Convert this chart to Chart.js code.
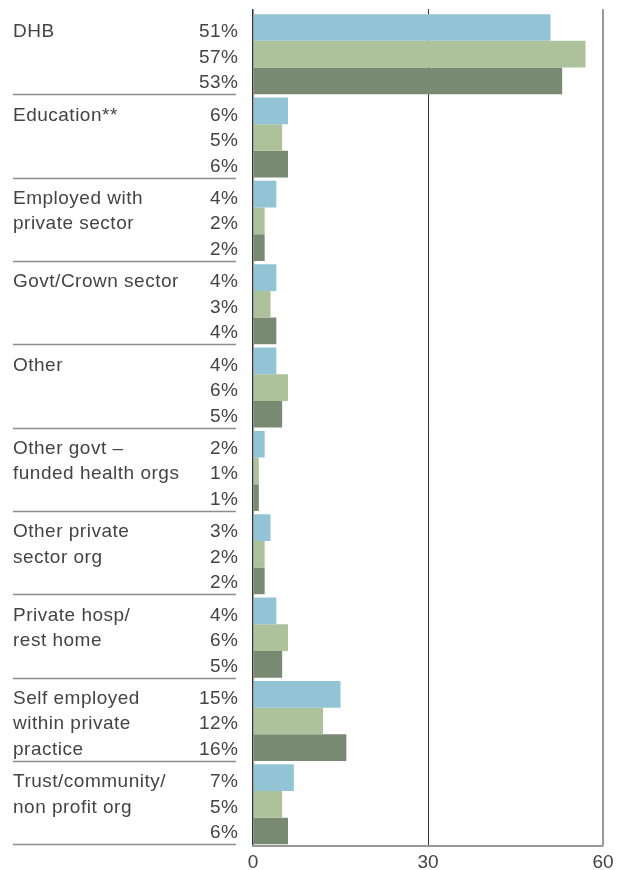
<!DOCTYPE html>
<html>
<head>
<meta charset="utf-8">
<script src="https://cdn.jsdelivr.net/npm/chart.js@4"></script>
<style>
	html, body { margin: 0; padding: 0; background: #fff; overflow: hidden; height: 870px; }
	canvas { display: block; }
</style>
</head>
<body>
<canvas id="mycanvas" width="619" height="870"></canvas>
<script>
var categories = [
	["DHB"],
	["Education**"],
	["Employed with", "private sector"],
	["Govt/Crown sector"],
	["Other"],
	["Other govt \u2013", "funded health orgs"],
	["Other private", "sector org"],
	["Private hosp/", "rest home"],
	["Self employed", "within private", "practice"],
	["Trust/community/", "non profit org"]
];
var seriesA = [51, 6, 4, 4, 4, 2, 3, 4, 15, 7];
var seriesB = [57, 5, 2, 3, 6, 1, 2, 6, 12, 5];
var seriesC = [53, 6, 2, 4, 5, 1, 2, 5, 16, 6];
var xTicks = [0, 30, 60];

var fontFamily = '"Liberation Sans", Arial, sans-serif';
var textColor = '#444';

function lineColor(v) { return v === 60 ? '#999' : '#333'; }
function lineWidth(v) { return v === 60 ? 2 : (v === 0 ? 1.5 : 1); }

// category names and percentages on the left, three text rows per group
var sideLabels = {
	id: 'sideLabels',
	afterDraw: function(chart) {
		var ctx = chart.ctx;
		var metas = [chart.getDatasetMeta(0), chart.getDatasetMeta(1), chart.getDatasetMeta(2)];
		var values = [seriesA, seriesB, seriesC];
		var area = chart.chartArea;
		var xs = chart.scales.x;
		ctx.save();

		// axis lines run a little above the plot
		xTicks.forEach(function(v) {
			var w = lineWidth(v);
			var px = Math.round(xs.getPixelForValue(v) - w / 2) + w / 2;
			ctx.strokeStyle = lineColor(v);
			ctx.lineWidth = w;
			ctx.beginPath();
			ctx.moveTo(px, 9);
			ctx.lineTo(px, area.top + 1);
			ctx.stroke();
		});

		ctx.font = '19px ' + fontFamily;
		ctx.fillStyle = textColor;
		ctx.textBaseline = 'alphabetic';
		ctx.letterSpacing = '0.5px';
		for (var i = 0; i < categories.length; i++) {
			var mid = metas[1].data[i].y;
			for (var k = 0; k < 3; k++) {
				var y = mid + (k - 1) * 25.5 + 8.5;
				ctx.textAlign = 'right';
				ctx.fillText(values[k][i] + '%', 238.5, y);
				if (categories[i][k]) {
					ctx.textAlign = 'left';
					ctx.fillText(categories[i][k], 13, y);
				}
			}
			var last = metas[2].data[i];
			var ly = Math.round(last.y + last.height / 2) + 0.5;
			ctx.strokeStyle = '#8c8c8c';
			ctx.lineWidth = 1.5;
			ctx.beginPath();
			ctx.moveTo(13, ly);
			ctx.lineTo(236, ly);
			ctx.stroke();
		}
		ctx.restore();
	}
};

var chartdata = {
	labels: categories,
	datasets: [
		{ label: 'A', data: seriesA, backgroundColor: '#92c4d5' },
		{ label: 'B', data: seriesB, backgroundColor: '#adc29a' },
		{ label: 'C', data: seriesC, backgroundColor: '#788a72' }
	]
};

var barGraph = new Chart(document.getElementById('mycanvas'), {
	type: 'bar',
	data: chartdata,
	plugins: [sideLabels],
	options: {
		responsive: false,
		animation: false,
		indexAxis: 'y',
		layout: { padding: { left: 253, right: 16, top: 12.5, bottom: 0 } },
		datasets: { bar: { categoryPercentage: 0.96, barPercentage: 1, borderWidth: 0 } },
		plugins: { legend: { display: false }, tooltip: { enabled: false } },
		scales: {
			x: {
				min: 0,
				max: 60,
				afterBuildTicks: function(scale) {
					scale.ticks = xTicks.map(function(v) { return { value: v }; });
				},
				afterFit: function(scale) { scale.height = 24; },
				grid: {
					drawTicks: false,
					color: function(c) { return lineColor(c.tick && c.tick.value); },
					lineWidth: function(c) { return lineWidth(c.tick && c.tick.value); }
				},
				border: { display: true, color: '#999', width: 2 },
				ticks: {
					padding: 5,
					color: textColor,
					font: { family: fontFamily, size: 19 },
					maxRotation: 0
				}
			},
			y: {
				afterFit: function(scale) { scale.width = 0; },
				grid: { display: false, drawTicks: false },
				border: { display: false },
				ticks: { display: false }
			}
		}
	}
});
</script>
</body>
</html>
